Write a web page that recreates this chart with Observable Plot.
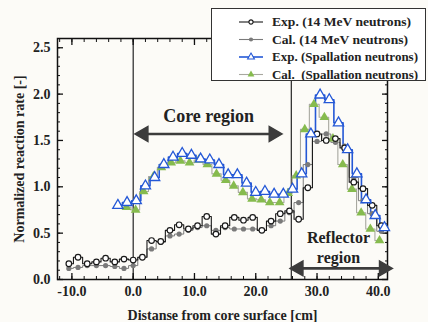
<!DOCTYPE html>
<html><head><meta charset="utf-8">
<script src="https://cdn.jsdelivr.net/npm/d3@7"></script>
<script src="https://cdn.jsdelivr.net/npm/@observablehq/plot@0.6"></script>
<style>
html,body{margin:0;padding:0;background:#fcfbf7;}
#wrap{position:relative;width:428px;height:322px;overflow:hidden;}
#legend{position:absolute;left:211px;top:8px;width:215px;height:73px;background:#fff;border:1px solid #333;box-sizing:border-box;}
svg text, svg{font-family:"Liberation Serif","Times New Roman","DejaVu Serif",serif !important;font-weight:bold;}
</style></head>
<body>
<div id="wrap"><div id="chart"></div><div id="legend"></div></div>
<script>
// ---- data ----
const exp14X = [-10.5,-9,-7.5,-6,-4.5,-3,-1.5,0,1.5,3,4.5,6,7.5,9,10.5,12,13.5,15,16.5,18,19.5,21,22.5,24,25.5,27,28.5,30,31.5,33,34.5,36,37.5,39,40.5];
const exp14Y = [0.17,0.24,0.17,0.19,0.23,0.19,0.22,0.21,0.24,0.42,0.41,0.53,0.59,0.545,0.58,0.68,0.49,0.58,0.67,0.64,0.67,0.53,0.63,0.71,0.74,0.65,0.99,1.57,1.50,1.52,1.42,1.05,0.98,0.80,0.58];
const cal14X = [-10.5,-9,-7.5,-6,-4.5,-3,-1.5,0,1.5,3,4.5,6,7.5,9,10.5,12,13.5,15,16.5,18,19.5,21,22.5,24,25.5,27,28.5,30,31.5,33,34.5,36,37.5,39,40.5];
const cal14Y = [0.12,0.13,0.15,0.15,0.15,0.14,0.12,0.15,0.24,0.33,0.40,0.47,0.49,0.53,0.56,0.58,0.53,0.56,0.545,0.545,0.545,0.53,0.58,0.63,0.72,0.83,1.24,1.49,1.57,1.48,1.44,1.10,0.85,0.71,0.52];
const expSpX = [-2.5,-1,0.5,2,3.5,5,6.5,8,9.5,11,12.5,14,15.5,17,18.5,20,21.5,23,24.5,26,27.5,29,30.5,32,33.5,35,36.5,38,39.5,41];
const expSpY = [0.80,0.83,0.85,1.01,1.10,1.24,1.32,1.36,1.34,1.30,1.29,1.24,1.13,1.13,1.04,0.94,0.95,0.92,0.92,0.975,1.14,1.57,1.99,1.94,1.69,1.40,1.14,0.86,0.69,0.56];
const calSpX = [-1.1,0.4,1.7,3.3,4.6,6.2,7.7,9.2,10.7,12.1,13.6,15.1,16.4,17.9,19.4,20.9,22.3,23.9,25.3,26.6,28.0,29.5,31.2,32.6,34.2,35.7,37.2,38.7,40.2];
const calSpY = [0.78,0.75,0.95,1.11,1.21,1.26,1.28,1.26,1.29,1.24,1.14,1.07,1.01,0.94,0.87,0.86,0.83,0.83,0.93,1.12,1.62,1.89,1.75,1.52,1.24,0.975,0.72,0.545,0.42];
const seriesNames = ["Exp. (14 MeV neutrons)","Cal. (14 MeV neutrons)","Exp. (Spallation neutrons)","Cal.  (Spallation neutrons)"];
const regionBounds = [0, 25.8];
const xMajor = [-10,0,10,20,30,40];
const yMajor = [0,0.5,1,1.5,2,2.5];
const xLabel = "Distanse from core surface [cm]";
const yLabel = "Normalized reaction rate [-]";
const coreArrow = {x1:1.7, x2:22.9, y:1.57};
const reflArrow = {x1:27.0, x2:40.9, y:0.12};
const annotations = [
  {x:12.3, y:1.76, text:"Core region", size:18},
  {x:33.5, y:0.45, text:"Reflector", size:16},
  {x:33.5, y:0.235, text:"region", size:16}
];

const zip = (xs, ys) => xs.map((x,i)=>({x, y: ys[i]}));
const exp14 = zip(exp14X, exp14Y), cal14 = zip(cal14X, cal14Y);
const expSp = zip(expSpX, expSpY), calSp = zip(calSpX, calSpY);

const xMinor = d3.range(-12, 42, 2);
const yMinor = d3.range(0, 26, 1).map(d => d/10);
const arrowHeads = [
  {x: coreArrow.x1, y: coreArrow.y, r: -90}, {x: coreArrow.x2, y: coreArrow.y, r: 90},
  {x: reflArrow.x1, y: reflArrow.y, r: -90}, {x: reflArrow.x2, y: reflArrow.y, r: 90}
];

const col = {exp14:"#1a1a1a", cal14:"#7a7a7a", expSp:"#2458d6", calSpLine:"#a8a8a0", calSp:"#86bb4e"};
const FONT = '"Liberation Serif","Times New Roman","DejaVu Serif",serif';

const plot = Plot.plot({
  width: 428, height: 322,
  marginLeft: 57, marginRight: 41, marginTop: 38, marginBottom: 43,
  style: {fontFamily: FONT, fontWeight: "bold", fontSize: "14px", background: "transparent", color: "#222"},
  x: {domain: [-12.35, 41.5]},
  y: {domain: [0, 2.6]},
  marks: [
    Plot.ruleX(regionBounds, {stroke: "#111", strokeWidth: 1.1}),
    Plot.axisX({anchor:"bottom", ticks: xMinor, tickSize: -3, text: null, label: null, stroke:"#111"}),
    Plot.axisX({anchor:"top", ticks: xMinor, tickSize: -3, text: null, label: null, stroke:"#111"}),
    Plot.axisX({anchor:"bottom", ticks: xMajor, tickSize: -6, text: null, label: null, stroke:"#111", strokeWidth:1.3}),
    Plot.axisX({anchor:"top", ticks: xMajor, tickSize: -6, text: null, label: null, stroke:"#111", strokeWidth:1.3}),
    Plot.axisY({anchor:"left", ticks: yMinor, tickSize: -3, text: null, label: null, stroke:"#111"}),
    Plot.axisY({anchor:"right", ticks: yMinor, tickSize: -3, text: null, label: null, stroke:"#111"}),
    Plot.axisY({anchor:"left", ticks: yMajor, tickSize: -6, text: null, label: null, stroke:"#111", strokeWidth:1.3}),
    Plot.axisY({anchor:"right", ticks: yMajor, tickSize: -6, text: null, label: null, stroke:"#111", strokeWidth:1.3}),
    Plot.axisX({anchor:"bottom", ticks: xMajor, tickSize: 0, tickPadding: 7, tickFormat: d => d.toFixed(1), label: xLabel, labelAnchor: "center", labelOffset: 40, labelArrow: "none", fill:"#222"}),
    Plot.axisY({anchor:"left", ticks: yMajor, tickSize: 0, tickPadding: 7, tickFormat: d => d.toFixed(1), label: yLabel, labelAnchor: "center", labelOffset: 43, labelArrow: "none", fill:"#222"}),
    Plot.frame({stroke: "#111", strokeWidth: 1.5}),
    Plot.link([coreArrow, reflArrow], {x1:"x1", x2:"x2", y1:"y", y2:"y", stroke:"#3c3c3c", strokeWidth:2.6}),
    Plot.dot(arrowHeads, {x:"x", y:"y", symbol:"triangle", r:5.5, rotate:"r", fill:"#3c3c3c", stroke:"#3c3c3c"}),
    Plot.text(annotations, {x:"x", y:"y", text:"text", fontSize:"size", fill:"#222", fontFamily: FONT}),
    Plot.line(cal14, {x:"x", y:"y", curve:"step", stroke: col.cal14, strokeWidth: 1}),
    Plot.line(calSp, {x:"x", y:"y", curve:"step", stroke: col.calSpLine, strokeWidth: 1.1}),
    Plot.line(exp14, {x:"x", y:"y", curve:"step", stroke: col.exp14, strokeWidth: 1.1}),
    Plot.line(expSp, {x:"x", y:"y", curve:"step", stroke: col.expSp, strokeWidth: 1.6}),
    Plot.dot(cal14, {x:"x", y:"y", r:2.6, fill: col.cal14, stroke:"none"}),
    Plot.dot(calSp, {x:"x", y:"y", symbol:"triangle", r:3.6, fill: col.calSp, stroke:"none"}),
    Plot.dot(exp14, {x:"x", y:"y", r:2.8, fill:"#fff", stroke: col.exp14, strokeWidth:1.2}),
    Plot.dot(expSp, {x:"x", y:"y", symbol:"triangle", r:3.8, fill:"#fff", stroke: col.expSp, strokeWidth:1.3})
  ]
});
document.getElementById("chart").appendChild(plot);

// legend
const leg = d3.select("#legend").append("svg").attr("width", 213).attr("height", 71)
  .style("font-family", FONT).style("font-weight", "bold").style("font-size", "11.5px");
const legWidths = [139, 136, 146, 146];
const legItems = [
  {name: seriesNames[0], line: col.exp14, sym: "circle", fill: "#fff", stroke: col.exp14},
  {name: seriesNames[1], line: col.cal14, sym: "circle", fill: col.cal14, stroke: "none"},
  {name: seriesNames[2], line: col.expSp, sym: "triangle", fill: "#fff", stroke: col.expSp},
  {name: seriesNames[3], line: col.calSpLine, sym: "triangle", fill: col.calSp, stroke: "none"}
];
legItems.forEach((d, i) => {
  const cy = 13 + i * 17.5;
  const g = leg.append("g");
  g.append("line").attr("x1", 27).attr("x2", 51).attr("y1", cy).attr("y2", cy).attr("stroke", d.line).attr("stroke-width", i === 2 ? 1.6 : 1.1);
  const sym = d.sym === "circle" ? d3.symbolCircle : d3.symbolTriangle;
  g.append("path").attr("d", d3.symbol(sym, d.sym === "circle" ? 14 : 20)()).attr("transform", `translate(39,${cy})`)
    .attr("fill", d.fill).attr("stroke", d.stroke).attr("stroke-width", 1.1);
  g.append("text").attr("x", 60).attr("y", cy).attr("dy", "0.35em").attr("fill", "#222")
    .attr("textLength", legWidths[i]).attr("lengthAdjust", "spacingAndGlyphs")
    .style("white-space", "pre").text(d.name);
});
</script>
</body></html>
